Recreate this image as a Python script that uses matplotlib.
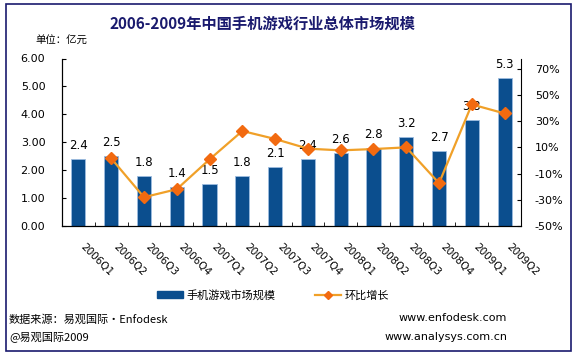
import matplotlib
matplotlib.use("Agg")
import matplotlib.pyplot as plt
from matplotlib.patches import Rectangle, Patch
from matplotlib.lines import Line2D
from matplotlib.ticker import FuncFormatter, FixedLocator
import numpy as np

plt.rcParams['font.family'] = ['Noto Sans CJK SC', 'DejaVu Sans']

categories = ['2006Q1', '2006Q2', '2006Q3', '2006Q4', '2007Q1', '2007Q2', '2007Q3',
              '2007Q4', '2008Q1', '2008Q2', '2008Q3', '2008Q4', '2009Q1', '2009Q2']
market_size = [2.4, 2.5, 1.8, 1.4, 1.5, 1.8, 2.1, 2.4, 2.6, 2.8, 3.2, 2.7, 3.8, 5.3]
growth = [None, 0.017, -0.28, -0.219, 0.009, 0.226, 0.165, 0.091, 0.078, 0.088, 0.101, -0.173, 0.429, 0.36]
left_ticks = [0, 1, 2, 3, 4, 5, 6]
right_ticks = [-0.5, -0.3, -0.1, 0.1, 0.3, 0.5, 0.7]

title = '2006-2009年中国手机游戏行业总体市场规模'
unit = '单位：亿元'
bar_name = '手机游戏市场规模'
line_name = '环比增长'
src1 = '数据来源：易观国际·Enfodesk'
src2 = '@易观国际2009'
url1 = 'www.enfodesk.com'
url2 = 'www.analysys.com.cn'

W, H = 575, 355
fig = plt.figure(figsize=(W / 100, H / 100), dpi=100)
fig.patch.set_facecolor('white')

# border
fig.add_artist(Rectangle((5.5 / W, 1 - 350.5 / H), 565 / W, 346.5 / H, transform=fig.transFigure,
                         fill=False, edgecolor='#1a1a6e', linewidth=1.2))

ax = fig.add_axes([62 / W, 1 - 226 / H, (521 - 62) / W, (226 - 58.5) / H])
x = np.arange(len(categories))
bar_color = '#0B4E8E'
ax.bar(x, market_size, width=0.43, color=bar_color, edgecolor='#9DBCE0', linewidth=0.6, zorder=2)
for xi, v in zip(x, market_size):
    ax.annotate(f'{v:.1f}', (xi, v), xytext=(0, 5), textcoords='offset points',
                ha='center', va='bottom', fontsize=8.5, family='DejaVu Sans', zorder=5)

ax.set_xlim(-0.5, len(categories) - 0.5)
ax.set_ylim(0, 6)
ax.set_yticks(left_ticks)
ax.yaxis.set_major_formatter(FuncFormatter(lambda v, p: f'{v:.2f}'))
ax.tick_params(axis='y', direction='in', length=3, labelsize=8, pad=12)
ax.set_xticks(x)
ax.set_xticklabels(categories, rotation=-45, ha='left', va='top', rotation_mode='default',
                   fontsize=7.5, family='DejaVu Sans')
ax.tick_params(axis='x', which='major', length=0, pad=11)
ax.xaxis.set_minor_locator(FixedLocator(np.arange(-0.5, len(categories), 1.0)))
ax.tick_params(axis='x', which='minor', direction='in', length=3)
for lab in ax.get_yticklabels():
    lab.set_family('DejaVu Sans')
ax.spines['top'].set_visible(False)
ax.spines['right'].set_visible(False)

ax2 = ax.twinx()
ax2.set_ylim(-0.5, 0.78)
ax2.set_yticks(right_ticks)
ax2.yaxis.set_major_formatter(FuncFormatter(lambda v, p: f'{v * 100:.0f}%'))
ax2.tick_params(axis='y', direction='in', length=3, labelsize=8, pad=10)
for lab in ax2.get_yticklabels():
    lab.set_family('DejaVu Sans')
ax2.spines['top'].set_visible(False)
gx = [xi for xi, g in zip(x, growth) if g is not None]
gy = [g for g in growth if g is not None]
ax2.plot(gx, gy, color='#F0A028', linewidth=1.6, marker='D', markersize=6.5,
         markerfacecolor='#F26A10', markeredgecolor='#F26A10', zorder=4)

fig.text(262 / W, 1 - 24 / H, title, ha='center', va='center', fontsize=11,
         fontweight='bold', color='#1a1a6e')
fig.text(35 / W, 1 - 41 / H, unit, ha='left', va='center', fontsize=7.5)

handles = [Patch(facecolor=bar_color, edgecolor=bar_color),
           Line2D([0], [0], color='#F0A028', linewidth=1.6, marker='D', markersize=4.5,
                  markerfacecolor='#F26A10', markeredgecolor='#F26A10')]
fig.legend(handles, [bar_name, line_name], loc='center', bbox_to_anchor=(273 / W, 1 - 295 / H),
           ncol=2, frameon=False, fontsize=8, handlelength=2.4, handleheight=0.5,
           columnspacing=3.5, handletextpad=0.3)

fig.text(9 / W, 1 - 319 / H, src1, ha='left', va='center', fontsize=8)
fig.text(9 / W, 1 - 337 / H, src2, ha='left', va='center', fontsize=8)
fig.text(507 / W, 1 - 318 / H, url1, ha='right', va='center', fontsize=8, family='DejaVu Sans')
fig.text(508 / W, 1 - 337 / H, url2, ha='right', va='center', fontsize=8, family='DejaVu Sans')

fig.savefig('out.png', dpi=100, facecolor='white')
